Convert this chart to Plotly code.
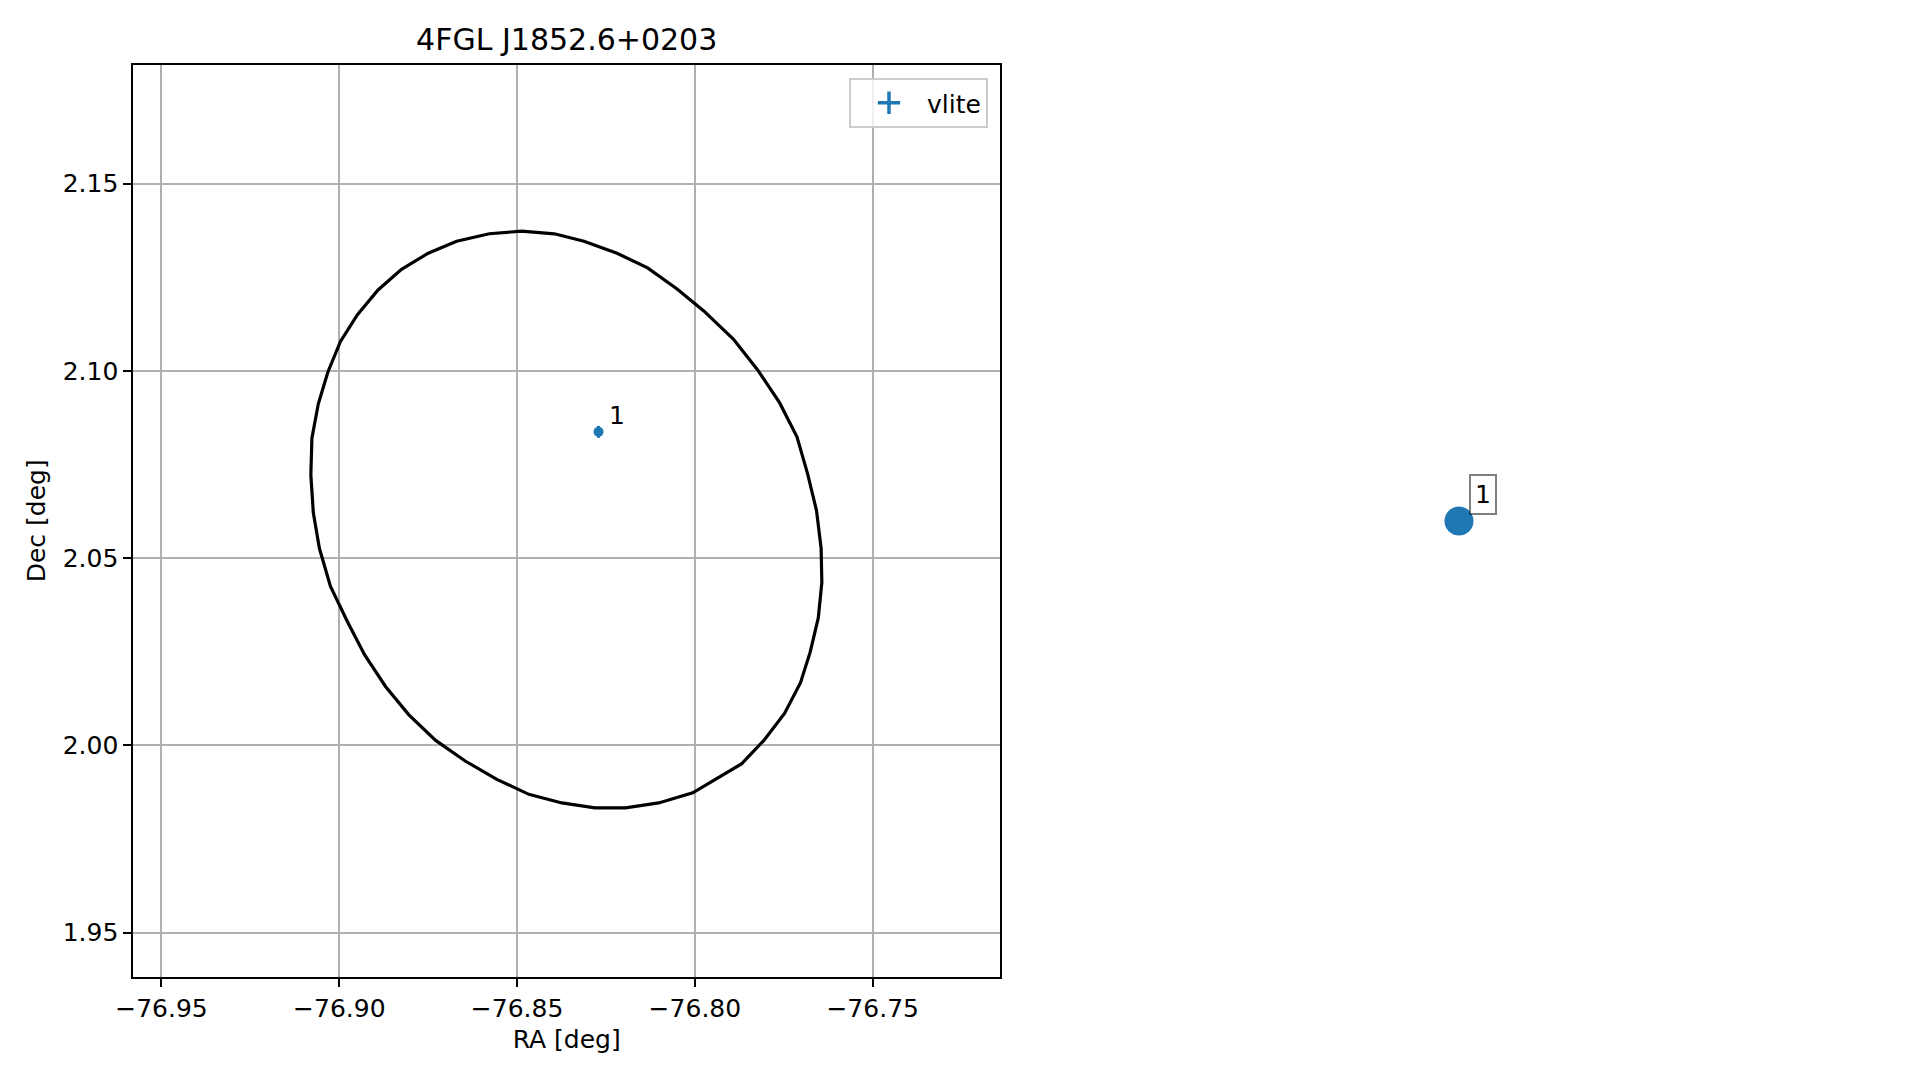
import plotly.graph_objects as go

# ---- data ----
title_text = "4FGL J1852.6+0203"

ellipse_ra = [-76.8488, -76.8395, -76.8312, -76.8219, -76.8133, -76.8051, -76.7975, -76.7892,
              -76.7824, -76.7762, -76.7713, -76.7683, -76.7658, -76.7645, -76.7643, -76.7653,
              -76.7676, -76.7703, -76.7748, -76.7806, -76.7868, -76.7941, -76.8006, -76.8102,
              -76.8195, -76.8281, -76.8374, -76.8467, -76.8557, -76.8646, -76.8729, -76.8805,
              -76.8870, -76.8929, -76.8977, -76.9025, -76.9056, -76.9073, -76.9080, -76.9077,
              -76.9059, -76.9032, -76.8997, -76.8949, -76.8891, -76.8825, -76.8750, -76.8670,
              -76.8578, -76.8488]
ellipse_dec = [2.1373, 2.1366, 2.1346, 2.1314, 2.1275, 2.1219, 2.1160, 2.1085,
               2.1003, 2.0915, 2.0824, 2.0725, 2.0627, 2.0526, 2.0435, 2.0340,
               2.0248, 2.0167, 2.0085, 2.0013, 1.9951, 1.9909, 1.9873, 1.9846,
               1.9833, 1.9833, 1.9846, 1.9869, 1.9909, 1.9958, 2.0013, 2.0082,
               2.0157, 2.0242, 2.0330, 2.0425, 2.0526, 2.0621, 2.0722, 2.0820,
               2.0912, 2.0997, 2.1078, 2.1150, 2.1216, 2.1271, 2.1314, 2.1346,
               2.1366, 2.1373]

src_ra = [-76.8271]
src_dec = [2.0837]
src_ra_err = [0.0010]
src_dec_err = [0.0016]
src_labels = ["1"]
series_name = "vlite"

# second (axis-less) panel
panel2_x = [0.0]
panel2_y = [0.0]
panel2_labels = ["1"]

x_ticks = [-76.95, -76.90, -76.85, -76.80, -76.75]
x_ticktext = ["\u221276.95", "\u221276.90", "\u221276.85", "\u221276.80", "\u221276.75"]
y_ticks = [1.95, 2.00, 2.05, 2.10, 2.15]
y_ticktext = ["1.95", "2.00", "2.05", "2.10", "2.15"]

# ---- figure ----
OFF = 8                      # page body margin
W, H = 1919 - 2 * OFF, 1080 - 2 * OFF
BLUE = "#1f77b4"
FONT = "DejaVu Sans"
FS = 25


def px_x(p):
    return (p - OFF) / W


def px_y(p):
    return 1 - (p - OFF) / H


fig = go.Figure()

fig.add_trace(go.Scatter(
    x=ellipse_ra, y=ellipse_dec, mode="lines",
    line=dict(color="black", width=3.2), showlegend=False, hoverinfo="skip",
    xaxis="x", yaxis="y"))

fig.add_trace(go.Scatter(
    x=src_ra, y=src_dec, mode="markers", name=series_name, legendgroup=series_name,
    showlegend=False,
    marker=dict(color=BLUE, size=10),
    error_x=dict(type="data", array=src_ra_err, color=BLUE, thickness=3, width=0),
    error_y=dict(type="data", array=src_dec_err, color=BLUE, thickness=3, width=0),
    xaxis="x", yaxis="y"))

# legend entry drawn as an errorbar cross (no data of its own)
fig.add_trace(go.Scatter(
    x=[None], y=[None], mode="markers", name=series_name, legendgroup=series_name,
    marker=dict(color=BLUE, symbol="cross-thin", size=20, line=dict(color=BLUE, width=3.5)),
    xaxis="x", yaxis="y"))

fig.add_trace(go.Scatter(
    x=panel2_x, y=panel2_y, mode="markers", showlegend=False,
    marker=dict(color=BLUE, size=29),
    xaxis="x2", yaxis="y2"))

annotations = []
for x, y, t in zip(src_ra, src_dec, src_labels):
    annotations.append(dict(x=x, y=y, xref="x", yref="y", text=t, showarrow=False,
                            xanchor="left", yanchor="bottom", xshift=8, yshift=0,
                            font=dict(family=FONT, size=FS, color="black")))
for x, y, t in zip(panel2_x, panel2_y, panel2_labels):
    annotations.append(dict(x=x, y=y, xref="x2", yref="y2", text=t, showarrow=False,
                            xanchor="left", yanchor="bottom", xshift=10, yshift=6,
                            bordercolor="rgba(0,0,0,0.5)", borderwidth=2, borderpad=4,
                            bgcolor="rgba(255,255,255,0.5)",
                            font=dict(family=FONT, size=FS, color="black")))

x0, x1 = px_x(133.4), px_x(1000.0)
y0, y1 = px_y(976.7), px_y(64.9)

axis_common = dict(
    showgrid=True, gridcolor="#b0b0b0", gridwidth=1.6,
    showline=True, linecolor="black", linewidth=2, mirror=True,
    ticks="outside", ticklen=8, tickwidth=2, tickcolor="black",
    zeroline=False, automargin=False,
    tickfont=dict(family=FONT, size=FS, color="black"),
)

fig.update_layout(
    width=W, height=H, autosize=False,
    margin=dict(l=0, r=0, t=0, b=0, pad=0),
    paper_bgcolor="white", plot_bgcolor="white",
    font=dict(family=FONT, size=FS, color="black"),
    title=dict(text=title_text, x=(x0 + x1) / 2, xref="paper", xanchor="center",
               y=px_y(39), yref="paper", yanchor="middle",
               font=dict(family=FONT, size=30, color="black")),
    xaxis=dict(domain=[x0, x1], range=[-76.9579, -76.7142],
               tickvals=x_ticks, ticktext=x_ticktext,
               title=dict(text="RA [deg]", standoff=9,
                          font=dict(family=FONT, size=FS, color="black")),
               anchor="y", **axis_common),
    yaxis=dict(domain=[y0, y1], range=[1.9382, 2.1817],
               tickvals=y_ticks, ticktext=y_ticktext,
               title=dict(text="Dec [deg]", standoff=10,
                          font=dict(family=FONT, size=FS, color="black")),
               anchor="x", **axis_common),
    xaxis2=dict(domain=[px_x(1459 - 300), px_x(1459 + 300)], range=[-1, 1], visible=False,
                anchor="y2"),
    yaxis2=dict(domain=[px_y(521 + 300), px_y(521 - 300)], range=[-1, 1], visible=False,
                anchor="x2"),
    legend=dict(x=px_x(988), y=px_y(78), xanchor="right", yanchor="top",
                xref="paper", yref="paper",
                bgcolor="rgba(255,255,255,0.8)", bordercolor="#cccccc", borderwidth=2,
                font=dict(family=FONT, size=FS, color="black"),
                itemwidth=66, itemsizing="trace"),
    annotations=annotations,
    showlegend=True,
)

fig.write_html("out.html")
